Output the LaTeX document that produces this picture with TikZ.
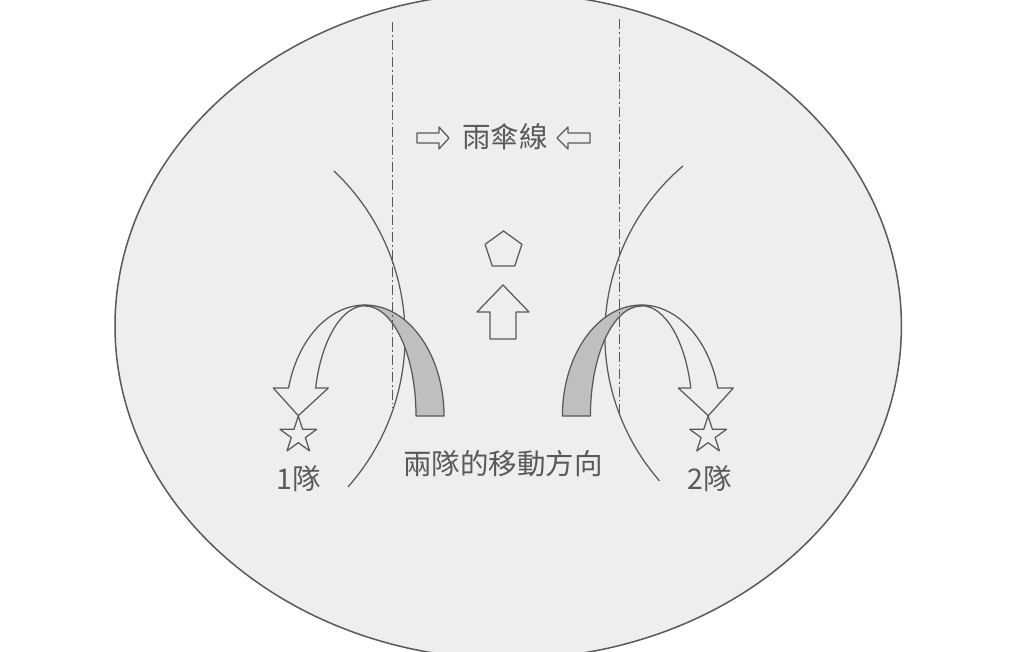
\documentclass[tikz,border=0pt]{standalone}
\usepackage{fontspec}
\setmainfont{Noto Sans CJK TC}
\usetikzlibrary{shapes.geometric}
\definecolor{bgfill}{HTML}{EEEEEE}
\definecolor{ln}{HTML}{595959}
\definecolor{band}{HTML}{BFBFBF}
\begin{document}
\begin{tikzpicture}[x=1pt,y=-1pt,
  outl/.style={draw=ln,line width=1.25pt,line join=round},
  dashdotline/.style={draw=ln,line width=1.2pt,dash pattern=on 10pt off 3pt on 1.5pt off 3pt},
  lbl/.style={text=ln,font=\fontsize{28.5}{30}\selectfont,inner sep=0pt},
  starpic/.pic={\path[outl,fill=bgfill] (0,-19.3) -- (4.33,-5.96) -- (18.36,-5.96) -- (7.01,2.28)
     -- (11.34,15.61) -- (0,7.37) -- (-11.34,15.61) -- (-7.01,2.28) -- (-18.36,-5.96) -- (-4.33,-5.96) -- cycle;}
]
\useasboundingbox (0,0) rectangle (1024,651);
\fill[white] (0,0) rectangle (1024,651);
% background ellipse
\path[draw=ln,line width=1.5pt,fill=bgfill] (508.2,326) ellipse [x radius=393.2, y radius=333];
% large curves
\draw[outl] (177.6,336.2) ++(-46.6:227.5) arc[start angle=-46.6, end angle=41.5, radius=227.5];
\draw[outl] (826.6,335) ++(-130.35:221.8) arc[start angle=-130.35, end angle=-221.1, radius=221.8];
% left curved arrow
\path[outl,fill=band] (365,416) ++(0:51 and 110) arc[start angle=0, end angle=-90, x radius=51, y radius=110]
   -- (365,305) arc[start angle=-90, end angle=0, x radius=79, y radius=111] -- cycle;
\path[outl,fill=bgfill] (365,305) arc[start angle=270, end angle=194.6, x radius=79, y radius=111]
   -- (273.3,388) -- (298.3,415.7) -- (328.3,388) -- (315.6,388)
   arc[start angle=194.6, end angle=270, x radius=51, y radius=110] -- cycle;
% right curved arrow
\path[outl,fill=band] (641.4,416) ++(180:51 and 110) arc[start angle=180, end angle=270, x radius=51, y radius=110]
   -- (641.4,305) arc[start angle=270, end angle=180, x radius=79, y radius=111] -- cycle;
\path[outl,fill=bgfill] (641.4,305) arc[start angle=270, end angle=345.4, x radius=79, y radius=111]
   -- (733.3,388) -- (708.3,415.7) -- (678.3,388) -- (690.8,388)
   arc[start angle=345.4, end angle=270, x radius=51, y radius=110] -- cycle;
% dash-dot lines
\draw[dashdotline] (392.5,22) -- (392.5,408);
\draw[dashdotline] (619.5,19) -- (619.5,413);
% top block arrows
\path[outl] (417,133) -- (439,133) -- (439,127) -- (449,138) -- (439,149) -- (439,143) -- (417,143) -- cycle;
\path[outl] (590,133) -- (568,133) -- (568,127) -- (557,138) -- (568,149) -- (568,143) -- (590,143) -- cycle;
% pentagon
\path[outl] (503.5,231) -- (521.9,244.3) -- (514.8,265.9) -- (492.2,265.9) -- (485.1,244.3) -- cycle;
% up arrow
\path[outl] (503,285) -- (529,312) -- (516,312) -- (516,339) -- (490,339) -- (490,312) -- (477,312) -- cycle;
% stars
\pic at (298.3,435.3) {starpic};
\pic at (708.1,435.3) {starpic};
% texts
\node[lbl] (title) at (505,137) {雨傘線};
\node[lbl] (move) at (503,464) {兩隊的移動方向};
\node[lbl] (t1) at (298.5,479) {1隊};
\node[lbl] (t2) at (710,479) {2隊};
\end{tikzpicture}
\end{document}
